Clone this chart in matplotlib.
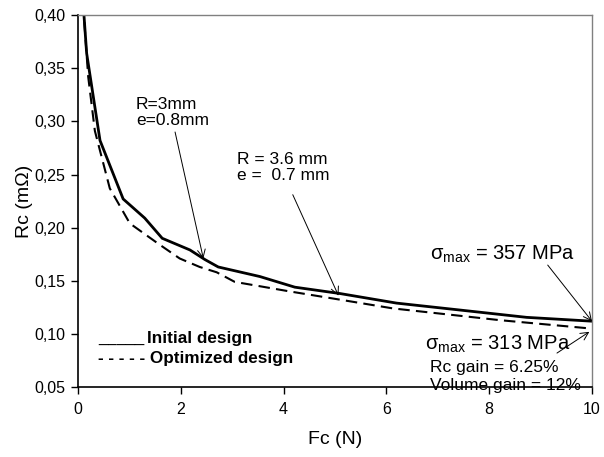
import matplotlib
matplotlib.use('Agg')
import matplotlib.pyplot as plt
from matplotlib.ticker import FuncFormatter

plt.rcParams['font.family'] = ['Liberation Sans', 'DejaVu Sans']
plt.rcParams['mathtext.fontset'] = 'custom'
plt.rcParams['mathtext.rm'] = 'Liberation Sans'
plt.rcParams['mathtext.it'] = 'Liberation Sans:italic'

# initial design curve
fc_init = [0.10, 0.17, 0.43, 0.88, 1.30, 1.64, 2.18, 2.47, 2.73, 3.54, 4.22, 5.10, 6.20, 7.43, 8.73, 10.0]
rc_init = [0.412, 0.364, 0.282, 0.227, 0.209, 0.190, 0.179, 0.170, 0.163, 0.154, 0.144, 0.138, 0.129, 0.1225, 0.1156, 0.112]

# optimized design curve
fc_opt = [0.10, 0.20, 0.33, 0.62, 1.01, 1.56, 1.98, 2.37, 2.70, 3.05, 4.12, 5.13, 6.13, 8.20, 10.0]
rc_opt = [0.410, 0.342, 0.291, 0.237, 0.204, 0.185, 0.171, 0.163, 0.158, 0.149, 0.140, 0.132, 0.124, 0.113, 0.105]

xticks = [0, 2, 4, 6, 8, 10]
yticks = [0.05, 0.10, 0.15, 0.20, 0.25, 0.30, 0.35, 0.40]

fig = plt.figure(figsize=(6.04, 4.57), dpi=100)
ax = fig.add_axes([0.129, 0.153, 0.851, 0.814])

ax.plot(fc_init, rc_init, color='black', lw=2.0, solid_joinstyle='miter')
ax.plot(fc_opt, rc_opt, color='black', lw=1.5, dashes=(5.5, 3))

ax.set_xlim(0, 10)
ax.set_ylim(0.05, 0.40)
ax.set_xticks(xticks)
ax.set_yticks(yticks)
ax.yaxis.set_major_formatter(FuncFormatter(lambda v, p: ('%.2f' % v).replace('.', ',')))
ax.tick_params(direction='out', length=5, width=1, labelsize=11.5, colors='black')
ax.tick_params(axis='x', pad=6)
ax.tick_params(axis='y', pad=4)

for s in ['top', 'right']:
    ax.spines[s].set_color('#808080')
    ax.spines[s].set_linewidth(1)
for s in ['left', 'bottom']:
    ax.spines[s].set_linewidth(1.2)

ax.set_xlabel('Fc (N)', fontsize=14, labelpad=10)
ax.set_ylabel('Rc (m\u03a9)', fontsize=14, labelpad=1)

arrow = dict(arrowstyle='->', lw=0.7, color='black', shrinkA=0, shrinkB=0,
             mutation_scale=14)

ax.text(1.13, 0.323, 'R=3mm\ne=0.8mm', fontsize=12.5, va='top', linespacing=1.1)
ax.annotate('', xy=(2.44, 0.171), xytext=(1.89, 0.290), arrowprops=arrow)

ax.text(3.09, 0.271, 'R = 3.6 mm\ne =  0.7 mm', fontsize=12.5, va='top', linespacing=1.1)
ax.annotate('', xy=(5.07, 0.136), xytext=(4.18, 0.231), arrowprops=arrow)

ax.text(6.85, 0.1695, '\u03c3$_{\\mathrm{max}}$ = 357 MPa', fontsize=14.5, va='baseline')
ax.annotate('', xy=(10.0, 0.112), xytext=(9.14, 0.1648), arrowprops=arrow)

ax.text(6.75, 0.0848, '\u03c3$_{\\mathrm{max}}$ = 313 MPa', fontsize=14.5, va='baseline')
ax.annotate('', xy=(9.95, 0.102), xytext=(9.32, 0.082), arrowprops=arrow)

ax.text(6.85, 0.064, 'Rc gain = 6.25%', fontsize=12.5, va='baseline')
ax.text(6.85, 0.047, 'Volume gain = 12%', fontsize=12.5, va='baseline')

ax.text(0.39, 0.0914, '_____', fontsize=12, va='baseline')
ax.text(1.34, 0.0914, 'Initial design', fontsize=12.3, fontweight='bold', va='baseline')
ax.text(0.39, 0.0726, '- - - - - Optimized design', fontsize=12.3, fontweight='bold', va='baseline')

fig.savefig('out.png', dpi=100)
